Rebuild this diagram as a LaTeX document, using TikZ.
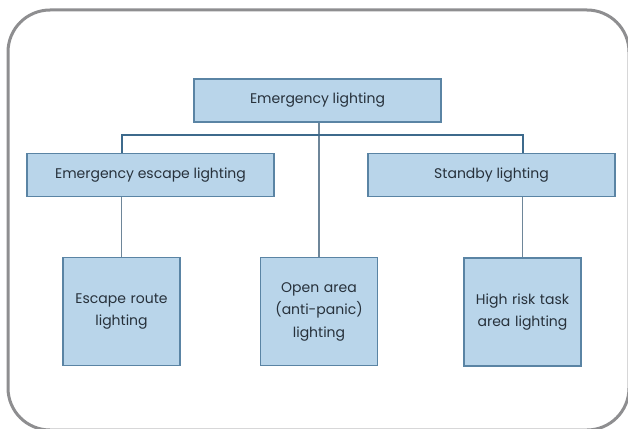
\documentclass[tikz,border=0pt]{standalone}
\usepackage{fontspec}
\setmainfont{Poppins}
\usepackage{tikz}

\definecolor{boxfill}{HTML}{B9D5EA}
\definecolor{boxline}{HTML}{5A84A4}
\definecolor{busline}{HTML}{3D6A8C}
\definecolor{linkline}{HTML}{6E8699}
\definecolor{framegray}{HTML}{8E8E90}
\definecolor{textcol}{HTML}{27313B}

\tikzset{
  box/.style={draw=boxline, fill=boxfill, line width=1.4pt, text=textcol,
    inner sep=0pt, align=center, font=\fontsize{14}{22.5}\selectfont},
  widebox/.style={box, minimum width=247pt, minimum height=43pt},
  tallbox/.style={box, minimum width=117pt, minimum height=108pt, text width=115pt},
  bus/.style={draw=busline, line width=2pt},
  link/.style={draw=linkline, line width=1.6pt}
}

\begin{document}
\begin{tikzpicture}[x=1pt, y=-1pt]
 \useasboundingbox (0,0) rectangle (628,428);
 % outer frame
 \draw[framegray, line width=3pt, rounded corners=42pt] (8,10) rectangle (629,430);

 \node[widebox] (top) at (317.5,100.5) {Emergency lighting};
 \node[widebox] (escape) at (150.5,175) {Emergency escape lighting};
 \node[widebox] (standby) at (491.5,175) {Standby lighting};
 \node[tallbox] (route) at (121.5,311.5) {Escape route\\lighting};
 \node[tallbox] (open) at (319,311.5) {Open area\\(anti-panic)\\lighting};
 \node[tallbox] (task) at (522.5,312) {High risk task\\area lighting};

 % connectors
 \draw[link] (top.south -| open.north) -- (open.north);
 \draw[bus] (route.north |- escape.north) -- (route.north |- 0,135) -| (task.north |- standby.north);
 \draw[link] (route.north |- escape.south) -- (route.north);
 \draw[link] (task.north |- standby.south) -- (task.north);
\end{tikzpicture}
\end{document}
